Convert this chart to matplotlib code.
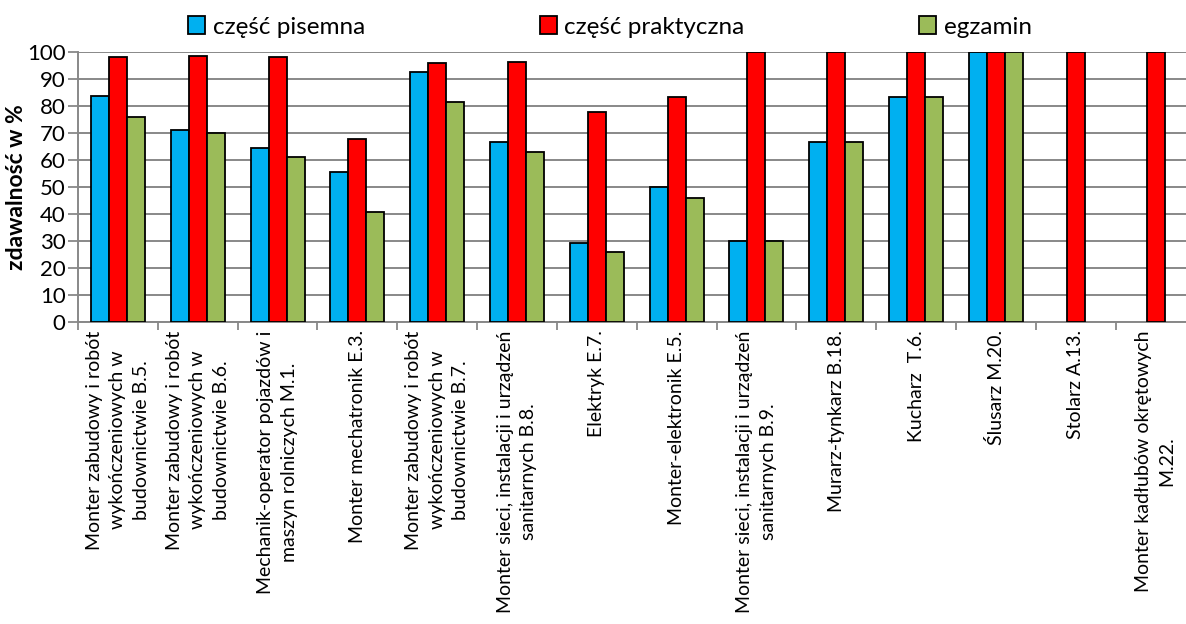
import numpy as np
import matplotlib
matplotlib.use("Agg")
import matplotlib.pyplot as plt
from matplotlib.ticker import FixedLocator, MultipleLocator

plt.rcParams['font.family'] = ['Lato', 'DejaVu Sans']

# Dane z wykresu
kategorie = [
    "Monter zabudowy i robót\nwykończeniowych w\nbudownictwie B.5.",
    "Monter zabudowy i robót\nwykończeniowych w\nbudownictwie B.6.",
    "Mechanik-operator pojazdów i\nmaszyn rolniczych M.1.",
    "Monter mechatronik E.3.",
    "Monter zabudowy i robót\nwykończeniowych w\nbudownictwie B.7.",
    "Monter sieci, instalacji i urządzeń\nsanitarnych B.8.",
    "Elektryk E.7.",
    "Monter-elektronik E.5.",
    "Monter sieci, instalacji i urządzeń\nsanitarnych B.9.",
    "Murarz-tynkarz B.18.",
    "Kucharz  T.6.",
    "Ślusarz M.20.",
    "Stolarz A.13.",
    "Monter kadłubów okrętowych\nM.22.",
]
pisemna = [83.7, 71.2, 64.4, 55.5, 92.6, 66.7, 29.4, 50.0, 30.0, 66.7, 83.3, 100, np.nan, np.nan]
praktyczna = [98.1, 98.4, 98.1, 67.9, 95.9, 96.2, 77.7, 83.3, 100, 100, 100, 100, 100, 100]
egzamin = [76.1, 70.0, 61.2, 40.7, 81.4, 62.9, 25.8, 45.8, 30.0, 66.7, 83.3, 100, np.nan, np.nan]

serie = [
    ("część pisemna", pisemna, "#00B0F0"),
    ("część praktyczna", praktyczna, "#FF0000"),
    ("egzamin", egzamin, "#9BBB59"),
]

fig = plt.figure(figsize=(11.86, 6.24), dpi=100)
# os wychodzi poza prawą krawędź, jak w oryginale
ax = fig.add_axes([78 / 1186, 1 - 322 / 624, 1117.5 / 1186, 270 / 624])

x = np.arange(len(kategorie))
w = 0.2256
for i, (nazwa, wart, kolor) in enumerate(serie):
    ax.bar(x + (i - 1) * w, wart, w, color=kolor, edgecolor="black",
           linewidth=1.3, label=nazwa, zorder=3)

ax.set_xlim(-0.5, len(kategorie) - 0.5)
ax.set_ylim(0, 100)
ax.yaxis.set_major_locator(MultipleLocator(10))
ax.grid(axis="y", color="#888888", linewidth=1.4, zorder=0)

ax.xaxis.set_major_locator(FixedLocator(np.arange(-0.5, len(kategorie), 1)))
ax.xaxis.set_minor_locator(FixedLocator(x))
ax.set_xticklabels([], minor=False)
ax.set_xticklabels(kategorie, minor=True, rotation=90, ha="center",
                   va="top", multialignment="center", fontsize=14,
                   linespacing=1.45)
ax.tick_params(axis="x", which="major", length=6, color="#888888", width=1.3)
ax.tick_params(axis="x", which="minor", length=0, pad=6)
ax.tick_params(axis="y", length=7, color="#888888", width=1.3, labelsize=16, pad=2)

for s in ["top", "right"]:
    ax.spines[s].set_visible(False)
for s in ["left", "bottom"]:
    ax.spines[s].set_color("#888888")
    ax.spines[s].set_linewidth(1.4)

ax.set_ylabel("zdawalność w %", fontsize=16.5, fontweight="bold", labelpad=0)

fig.legend(loc="center", bbox_to_anchor=(610 / 1186, 1 - 27 / 624), ncol=3,
           frameon=False, fontsize=17.5, handlelength=0.7, handleheight=0.7,
           handletextpad=0.3, columnspacing=7.2, borderaxespad=0)

plt.savefig("out.png", dpi=100)
plt.close()
